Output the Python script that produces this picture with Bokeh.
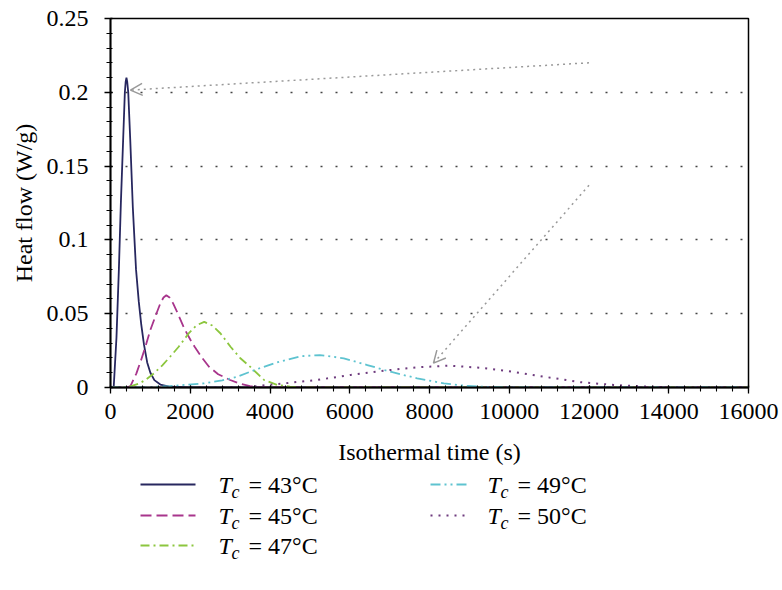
from bokeh.plotting import figure
from bokeh.layouts import column
from bokeh.models import Range1d, FixedTicker, Arrow, OpenHead
from bokeh.core.properties import value
from bokeh.embed import file_html
from bokeh.resources import INLINE

FONT = "Liberation Serif"

# ---------------- data ----------------
t43 = [0, 80, 150, 210, 260, 320, 360, 380, 400, 420, 445, 495, 560, 640, 710, 770, 840, 920, 1000, 1100, 1250, 1500, 2000, 16000]
v43 = [0, 0, 0.034, 0.080, 0.125, 0.170, 0.200, 0.207, 0.210, 0.207, 0.200, 0.168, 0.122, 0.080, 0.058, 0.043, 0.029, 0.017, 0.010, 0.005, 0.002, 0.0005, 0, 0]

t45 = [0, 400, 500, 650, 760, 880, 1000, 1150, 1250, 1330, 1400, 1480, 1570, 1690, 1850, 2000, 2110, 2300, 2470, 2700, 3000, 3250, 3500, 3760, 16000]
v45 = [0, 0, 0.001, 0.0096, 0.018, 0.028, 0.039, 0.050, 0.057, 0.061, 0.0625, 0.061, 0.057, 0.050, 0.040, 0.0325, 0.0276, 0.020, 0.0141, 0.009, 0.0051, 0.0025, 0.001, 0, 0]

t47 = [0, 300, 500, 700, 880, 1090, 1300, 1500, 1710, 1960, 2150, 2350, 2550, 2760, 3010, 3250, 3500, 3850, 4180, 4500, 5000, 16000]
v47 = [0, 0, 0.0008, 0.0025, 0.0051, 0.0096, 0.015, 0.021, 0.0276, 0.0366, 0.042, 0.0445, 0.042, 0.0366, 0.0276, 0.020, 0.0141, 0.0051, 0.0017, 0.0006, 0, 0]

t49 = [0, 800, 1500, 2340, 2800, 3180, 3680, 4200, 4770, 5250, 5850, 6440, 7020, 7690, 8360, 8950, 9600, 10500, 16000]
v49 = [0, 0, 0.001, 0.0028, 0.0048, 0.0073, 0.0125, 0.0172, 0.0212, 0.0220, 0.0198, 0.0152, 0.0107, 0.0062, 0.0028, 0.0010, 0.0003, 0, 0]

t50 = [0, 2500, 3500, 4350, 5180, 6020, 6850, 7690, 8500, 9320, 10120, 10950, 11790, 12620, 13460, 14130, 16000]
v50 = [0, 0, 0.0005, 0.0028, 0.0051, 0.0085, 0.0114, 0.0137, 0.0148, 0.0133, 0.0105, 0.0070, 0.0036, 0.0017, 0.0006, 0, 0]

series_temps = ["43", "45", "47", "49", "50"]

x_ticks = [0, 2000, 4000, 6000, 8000, 10000, 12000, 14000, 16000]
x_tick_labels = ["0", "2000", "4000", "6000", "8000", "10000", "12000", "14000", "16000"]
y_ticks = [0, 0.05, 0.1, 0.15, 0.2, 0.25]
y_tick_labels = ["0", "0.05", "0.1", "0.15", "0.2", "0.25"]

# annotation arrows: (x_start, y_start, x_end, y_end)
arrow1 = [12000, 0.220, 500, 0.2015]
arrow2 = [12000, 0.137, 8100, 0.0165]

# ---------------- main plot ----------------
p = figure(width=782, height=470,
           x_range=Range1d(0, 16000), y_range=Range1d(0, 0.25),
           output_backend="svg", toolbar_location=None,
           min_border_left=110, min_border_right=34,
           min_border_top=18, min_border_bottom=83)
p.background_fill_color = "white"
p.border_fill_color = "white"
p.outline_line_color = "black"
p.outline_line_width = 1.5

styles = [
    dict(color="#27275f", dash="solid", width=1.8),
    dict(color="#a8358c", dash="11 5", width=1.8),
    dict(color="#8cc63e", dash="9 4 2 4", width=1.8),
    dict(color="#5ec3d0", dash="10 4 2 4 2 4", width=1.8),
    dict(color="#6e3b7e", dash="2 6", width=2.0),
]
data = [(t43, v43), (t45, v45), (t47, v47), (t49, v49), (t50, v50)]

# grid (dotted horizontal)
p.xgrid.visible = False
p.ygrid.ticker = FixedTicker(ticks=[0.05, 0.1, 0.15, 0.2])
p.ygrid.grid_line_color = "#444444"
p.ygrid.grid_line_dash = "2 13"
p.ygrid.grid_line_width = 1.5

for (t, v), s in zip(data, styles):
    p.line(t, v, line_color=s["color"], line_dash=s["dash"], line_width=s["width"])

for a in (arrow1, arrow2):
    p.add_layout(Arrow(end=OpenHead(size=12, line_color="#999999", line_width=1.5),
                       x_start=a[0], y_start=a[1], x_end=a[2], y_end=a[3],
                       line_color="#999999", line_dash="2 4", line_width=1.5))

p.xaxis.ticker = FixedTicker(ticks=x_ticks, minor_ticks=list(range(0, 16001, 400)))
p.xaxis.major_label_overrides = {t: l for t, l in zip(x_ticks, x_tick_labels)}
p.yaxis.ticker = FixedTicker(ticks=y_ticks, minor_ticks=[i / 100 for i in range(0, 26)])
p.yaxis.major_label_overrides = {t: l for t, l in zip(y_ticks, y_tick_labels)}

p.xaxis.axis_label = "Isothermal time (s)"
p.yaxis.axis_label = "Heat flow (W/g)"
for ax in (p.xaxis[0], p.yaxis[0]):
    ax.axis_line_width = 1.8
    ax.axis_line_color = "black"
    ax.major_tick_line_color = "black"
    ax.minor_tick_line_color = "black"
    ax.major_tick_line_width = 1.3
    ax.minor_tick_line_width = 1.1
    ax.major_tick_out = 6
    ax.major_tick_in = 2
    ax.minor_tick_out = 4
    ax.minor_tick_in = 2
    ax.major_label_text_font = FONT
    ax.major_label_text_font_size = "24px"
    ax.major_label_text_color = "black"
    ax.axis_label_text_font = FONT
    ax.axis_label_text_font_size = "24px"
    ax.axis_label_text_font_style = "normal"
    ax.axis_label_text_color = "black"
p.xaxis.major_label_standoff = 10
p.xaxis.axis_label_standoff = 17
p.yaxis.major_label_standoff = 16
p.yaxis.axis_label_standoff = 7

# ---------------- legend (separate strip, frame aligned with main frame) ----------------
lg = figure(width=782, height=120, x_range=Range1d(110, 748), y_range=Range1d(120, 0),
            output_backend="svg", toolbar_location=None, min_border=0)
lg.axis.visible = False
lg.grid.visible = False
lg.outline_line_color = None
lg.background_fill_color = "white"
lg.border_fill_color = "white"

# legend slot positions (columns, rows)
slots = [(140, 14), (140, 45), (140, 75), (430, 14), (430, 45)]
for (x0, y0), s, temp in zip(slots, styles, series_temps):
    sample_len = 55 if x0 < 300 else 40
    lg.line([x0, x0 + sample_len], [y0, y0], line_color=s["color"], line_dash=s["dash"],
            line_width=s["width"])
    tx = x0 + sample_len + 23 if x0 < 300 else x0 + sample_len + 17
    lg.text([tx], [y0], text=["T"], text_font=value(FONT), text_font_style="italic",
            text_font_size="24px", text_baseline="middle", text_align="left", text_color="black")
    lg.text([tx + 13], [y0 + 7], text=["c"], text_font=value(FONT), text_font_style="italic",
            text_font_size="18px", text_baseline="middle", text_align="left", text_color="black")
    lg.text([tx + 30], [y0], text=["= " + temp + "°C"], text_font=value(FONT),
            text_font_size="24px", text_baseline="middle", text_align="left", text_color="black")

layout = column(p, lg, spacing=0)
open("out.html", "w").write(file_html(layout, INLINE))
